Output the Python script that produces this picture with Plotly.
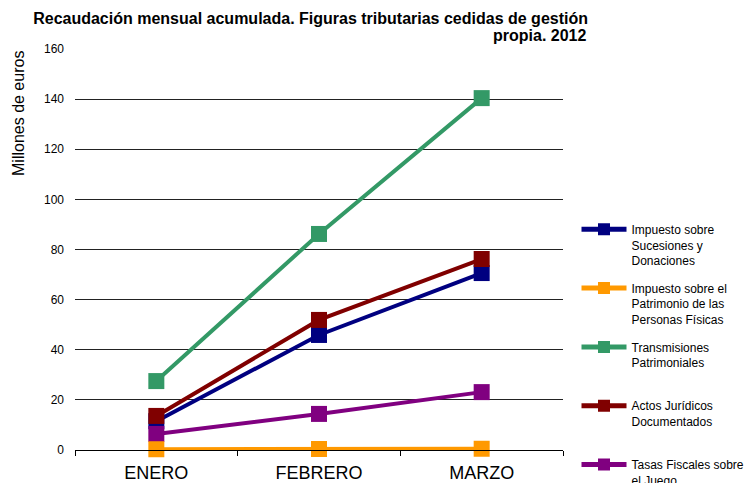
import plotly.graph_objects as go

meses = ["ENERO", "FEBRERO", "MARZO"]
series_nombres = [
    "Impuesto sobre<br>Sucesiones y<br>Donaciones",
    "Impuesto sobre el<br>Patrimonio de las<br>Personas Físicas",
    "Transmisiones<br>Patrimoniales<br> ",
    "Actos Jurídicos<br>Documentados<br> ",
    "Tasas Fiscales sobre<br>el Juego",
]
sucesiones = [11.5, 45.9, 70.6]
patrimonio = [0.3, 0.4, 0.5]
transmisiones = [27.5, 86.2, 140.4]
actos = [13.6, 51.9, 76.2]
tasas = [6.4, 14.4, 23.1]
valores = [sucesiones, patrimonio, transmisiones, actos, tasas]
colores = ["#000080", "#FF9900", "#339966", "#800000", "#800080"]
y_ticks = [0, 20, 40, 60, 80, 100, 120, 140, 160]

FONT = "Liberation Sans, Arial, sans-serif"

fig = go.Figure()
traces = []
for i in range(5):
    traces.append(go.Scatter(
        x=meses, y=valores[i], name=series_nombres[i],
        mode="lines+markers",
        line=dict(color=colores[i], width=4),
        marker=dict(symbol="square", size=16, color=colores[i]),
        cliponaxis=False,
        legendrank=i + 1,
        legendgroup=str(i),
    ))
# drawing order (later on top)
for k in [2, 0, 3, 4, 1]:
    fig.add_trace(traces[k])

fig.update_layout(
    width=756, height=483,
    paper_bgcolor="white", plot_bgcolor="white",
    font=dict(family=FONT, color="black"),
    margin=dict(l=75, r=193, t=49, b=33),
    title=dict(
        text="<b>Recaudación mensual acumulada. Figuras tributarias cedidas de gestión</b>",
        xref="container", yref="container", x=588 / 756, xanchor="right",
        y=1 - 18 / 483, yanchor="middle",
        font=dict(size=16, family=FONT),
        automargin=False,
    ),
    showlegend=True,
    legend=dict(
        xref="container", yref="container",
        x=576.5 / 756, xanchor="left", y=1 - 215 / 483, yanchor="top",
        font=dict(size=12, color="black", family=FONT),
        tracegroupgap=9,
        itemwidth=45,
        valign="top",
        itemsizing="constant",
        bgcolor="rgba(0,0,0,0)",
    ),
    annotations=[
        dict(
            text="<b>propia. 2012</b>",
            xref="paper", yref="paper",
            x=(588 - 75) / 488, y=1 + (49 - 36) / 401,
            xanchor="right", yanchor="middle",
            showarrow=False, font=dict(size=16, family=FONT),
        ),
        dict(
            text="Millones de euros", textangle=-90,
            xref="paper", yref="paper",
            x=(18 - 75) / 488, y=1 - (114 - 49) / 401,
            xanchor="center", yanchor="middle",
            showarrow=False, font=dict(size=16, family=FONT),
        ),
    ],
)
try:
    fig.update_layout(legend_maxheight=483)
except Exception:
    pass

fig.update_xaxes(
    type="category", range=[-0.5, 2.5],
    tickson="boundaries", ticks="outside", ticklen=5, tickcolor="black",
    showline=True, linecolor="black", linewidth=1,
    showgrid=False, tickfont=dict(size=18), ticklabelstandoff=6,
    fixedrange=True, automargin=False,
)
fig.update_yaxes(
    range=[0, 160], tickvals=y_ticks, ticks="", showline=False,
    showgrid=True, gridcolor="#222222", gridwidth=1, zeroline=False,
    tickfont=dict(size=12), ticklabelstandoff=10, fixedrange=True,
    automargin=False,
)

fig.write_html("out.html", config={"displayModeBar": False},
               post_script="document.body.style.margin='0';")
